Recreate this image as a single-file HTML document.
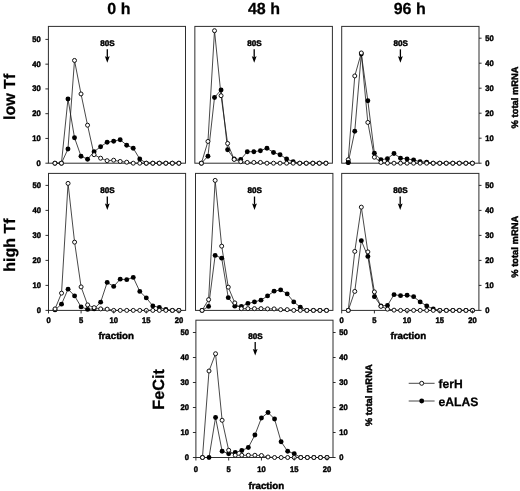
<!DOCTYPE html>
<html lang="en">
<head>
<meta charset="utf-8">
<title>Polysome profiles: ferH and eALAS mRNA distribution</title>
<style>
html,body{margin:0;padding:0;background:#fff;}
body{width:520px;height:491px;overflow:hidden;}
svg{display:block;}
svg text{font-family:"Liberation Sans", Arial, sans-serif;font-weight:bold;fill:#000;stroke:#000;stroke-width:0.25;text-rendering:geometricPrecision;}
svg text.sm{stroke-width:0.45;}
.fr{fill:none;stroke:#2e2e2e;stroke-width:1;}
.tk{stroke:#1a1a1a;stroke-width:0.9;}
.ser polyline,.ser line{fill:none;stroke:#1a1a1a;stroke-width:0.8;stroke-linejoin:round;}
.ser .f{fill:#000;stroke:none;}
.ser .o{fill:#fff;stroke:#111;stroke-width:1.0;}
.ar{stroke:#000;stroke-width:1.3;}
.ah{fill:#000;stroke:none;}
</style>
</head>
<body>
<svg width="520" height="491" viewBox="0 0 520 491">
<rect x="0" y="0" width="520" height="491" fill="#fff"/>
<rect class="fr" x="48.40" y="26.40" width="137.10" height="136.80"/>
<g class="ser">
<polyline points="54.92,163.20 61.45,163.20 67.97,98.95 74.50,137.70 81.03,156.20 87.55,159.20 94.08,151.70 100.60,146.70 107.12,142.20 113.65,141.20 120.18,139.70 126.70,145.20 133.22,148.20 139.75,158.95 146.28,163.20 152.80,163.20 159.33,163.20 165.85,163.20 172.38,163.20 178.90,163.20"/>
<polyline points="54.92,163.20 61.45,163.20 67.97,148.95 74.50,60.45 81.03,93.95 87.55,125.20 94.08,154.70 100.60,158.20 107.12,160.70 113.65,160.20 120.18,161.45 126.70,162.20 133.22,163.20 139.75,163.20 146.28,163.20 152.80,163.20 159.33,163.20 165.85,163.20 172.38,163.20 178.90,163.20"/>
<circle class="f" cx="54.92" cy="163.20" r="2.45"/>
<circle class="f" cx="61.45" cy="163.20" r="2.45"/>
<circle class="f" cx="67.97" cy="98.95" r="2.45"/>
<circle class="f" cx="74.50" cy="137.70" r="2.45"/>
<circle class="f" cx="81.03" cy="156.20" r="2.45"/>
<circle class="f" cx="87.55" cy="159.20" r="2.45"/>
<circle class="f" cx="94.08" cy="151.70" r="2.45"/>
<circle class="f" cx="100.60" cy="146.70" r="2.45"/>
<circle class="f" cx="107.12" cy="142.20" r="2.45"/>
<circle class="f" cx="113.65" cy="141.20" r="2.45"/>
<circle class="f" cx="120.18" cy="139.70" r="2.45"/>
<circle class="f" cx="126.70" cy="145.20" r="2.45"/>
<circle class="f" cx="133.22" cy="148.20" r="2.45"/>
<circle class="f" cx="139.75" cy="158.95" r="2.45"/>
<circle class="f" cx="146.28" cy="163.20" r="2.45"/>
<circle class="f" cx="152.80" cy="163.20" r="2.45"/>
<circle class="f" cx="159.33" cy="163.20" r="2.45"/>
<circle class="f" cx="165.85" cy="163.20" r="2.45"/>
<circle class="f" cx="172.38" cy="163.20" r="2.45"/>
<circle class="f" cx="178.90" cy="163.20" r="2.45"/>
<circle class="o" cx="54.92" cy="163.20" r="2.0"/>
<circle class="o" cx="61.45" cy="163.20" r="2.0"/>
<circle class="f" cx="67.97" cy="148.95" r="2.45"/>
<circle class="o" cx="74.50" cy="60.45" r="2.0"/>
<circle class="o" cx="81.03" cy="93.95" r="2.0"/>
<circle class="o" cx="87.55" cy="125.20" r="2.0"/>
<circle class="o" cx="94.08" cy="154.70" r="2.0"/>
<circle class="o" cx="100.60" cy="158.20" r="2.0"/>
<circle class="o" cx="107.12" cy="160.70" r="2.0"/>
<circle class="o" cx="113.65" cy="160.20" r="2.0"/>
<circle class="o" cx="120.18" cy="161.45" r="2.0"/>
<circle class="o" cx="126.70" cy="162.20" r="2.0"/>
<circle class="o" cx="133.22" cy="163.20" r="2.0"/>
<circle class="o" cx="139.75" cy="163.20" r="2.0"/>
<circle class="o" cx="146.28" cy="163.20" r="2.0"/>
<circle class="o" cx="152.80" cy="163.20" r="2.0"/>
<circle class="o" cx="159.33" cy="163.20" r="2.0"/>
<circle class="o" cx="165.85" cy="163.20" r="2.0"/>
<circle class="o" cx="172.38" cy="163.20" r="2.0"/>
<circle class="o" cx="178.90" cy="163.20" r="2.0"/>
</g>
<line class="tk" x1="45.40" y1="163.20" x2="48.40" y2="163.20"/>
<text class="sm" transform="translate(40.80 165.75) scale(0.94 1)" font-size="8.1" text-anchor="end">0</text>
<line class="tk" x1="45.40" y1="138.44" x2="48.40" y2="138.44"/>
<text class="sm" transform="translate(40.80 140.99) scale(0.94 1)" font-size="8.1" text-anchor="end">10</text>
<line class="tk" x1="45.40" y1="113.68" x2="48.40" y2="113.68"/>
<text class="sm" transform="translate(40.80 116.23) scale(0.94 1)" font-size="8.1" text-anchor="end">20</text>
<line class="tk" x1="45.40" y1="88.92" x2="48.40" y2="88.92"/>
<text class="sm" transform="translate(40.80 91.47) scale(0.94 1)" font-size="8.1" text-anchor="end">30</text>
<line class="tk" x1="45.40" y1="64.16" x2="48.40" y2="64.16"/>
<text class="sm" transform="translate(40.80 66.71) scale(0.94 1)" font-size="8.1" text-anchor="end">40</text>
<line class="tk" x1="45.40" y1="39.40" x2="48.40" y2="39.40"/>
<text class="sm" transform="translate(40.80 41.95) scale(0.94 1)" font-size="8.1" text-anchor="end">50</text>
<text class="sm" x="107.50" y="45.80" font-size="8.1" text-anchor="middle">80S</text>
<line class="ar" x1="107.30" y1="49.35" x2="107.30" y2="57.35"/>
<path class="ah" d="M104.90 56.25 L107.30 57.35 L109.70 56.25 L107.30 62.75 Z"/>
<rect class="fr" x="194.85" y="26.40" width="137.55" height="136.80"/>
<g class="ser">
<polyline points="201.41,163.20 207.96,156.20 214.51,97.45 221.07,89.95 227.62,149.70 234.18,158.95 240.73,159.45 247.29,151.70 253.84,151.70 260.40,150.70 266.95,148.20 273.51,152.45 280.06,154.70 286.62,158.95 293.17,161.70 299.73,163.20 306.28,163.20 312.84,163.20 319.39,163.20 325.95,163.20"/>
<polyline points="201.41,163.20 207.96,141.45 214.51,30.70 221.07,95.70 227.62,143.45 234.18,159.45 240.73,161.70 247.29,162.45 253.84,162.45 260.40,162.45 266.95,163.20 273.51,163.20 280.06,163.20 286.62,163.20 293.17,163.20 299.73,163.20 306.28,163.20 312.84,163.20 319.39,163.20 325.95,163.20"/>
<circle class="f" cx="201.41" cy="163.20" r="2.45"/>
<circle class="f" cx="207.96" cy="156.20" r="2.45"/>
<circle class="f" cx="214.51" cy="97.45" r="2.45"/>
<circle class="f" cx="221.07" cy="89.95" r="2.45"/>
<circle class="f" cx="227.62" cy="149.70" r="2.45"/>
<circle class="f" cx="234.18" cy="158.95" r="2.45"/>
<circle class="f" cx="240.73" cy="159.45" r="2.45"/>
<circle class="f" cx="247.29" cy="151.70" r="2.45"/>
<circle class="f" cx="253.84" cy="151.70" r="2.45"/>
<circle class="f" cx="260.40" cy="150.70" r="2.45"/>
<circle class="f" cx="266.95" cy="148.20" r="2.45"/>
<circle class="f" cx="273.51" cy="152.45" r="2.45"/>
<circle class="f" cx="280.06" cy="154.70" r="2.45"/>
<circle class="f" cx="286.62" cy="158.95" r="2.45"/>
<circle class="f" cx="293.17" cy="161.70" r="2.45"/>
<circle class="f" cx="299.73" cy="163.20" r="2.45"/>
<circle class="f" cx="306.28" cy="163.20" r="2.45"/>
<circle class="f" cx="312.84" cy="163.20" r="2.45"/>
<circle class="f" cx="319.39" cy="163.20" r="2.45"/>
<circle class="f" cx="325.95" cy="163.20" r="2.45"/>
<circle class="o" cx="201.41" cy="163.20" r="2.0"/>
<circle class="o" cx="207.96" cy="141.45" r="2.0"/>
<circle class="o" cx="214.51" cy="30.70" r="2.0"/>
<circle class="o" cx="221.07" cy="95.70" r="2.0"/>
<circle class="o" cx="227.62" cy="143.45" r="2.0"/>
<circle class="o" cx="234.18" cy="159.45" r="2.0"/>
<circle class="o" cx="240.73" cy="161.70" r="2.0"/>
<circle class="o" cx="247.29" cy="162.45" r="2.0"/>
<circle class="o" cx="253.84" cy="162.45" r="2.0"/>
<circle class="o" cx="260.40" cy="162.45" r="2.0"/>
<circle class="o" cx="266.95" cy="163.20" r="2.0"/>
<circle class="o" cx="273.51" cy="163.20" r="2.0"/>
<circle class="o" cx="280.06" cy="163.20" r="2.0"/>
<circle class="o" cx="286.62" cy="163.20" r="2.0"/>
<circle class="o" cx="293.17" cy="163.20" r="2.0"/>
<circle class="o" cx="299.73" cy="163.20" r="2.0"/>
<circle class="o" cx="306.28" cy="163.20" r="2.0"/>
<circle class="o" cx="312.84" cy="163.20" r="2.0"/>
<circle class="o" cx="319.39" cy="163.20" r="2.0"/>
<circle class="o" cx="325.95" cy="163.20" r="2.0"/>
</g>
<text class="sm" x="254.40" y="45.80" font-size="8.1" text-anchor="middle">80S</text>
<line class="ar" x1="254.20" y1="49.35" x2="254.20" y2="57.35"/>
<path class="ah" d="M251.80 56.25 L254.20 57.35 L256.60 56.25 L254.20 62.75 Z"/>
<rect class="fr" x="341.70" y="26.40" width="137.30" height="136.80"/>
<g class="ser">
<polyline points="348.24,162.45 354.77,131.20 361.31,53.95 367.84,100.70 374.38,153.20 380.91,159.70 387.44,158.70 393.98,153.45 400.51,158.20 407.05,158.95 413.58,159.95 420.12,161.70 426.65,162.20 433.19,163.20 439.73,163.20 446.26,163.20 452.79,163.20 459.33,163.20 465.87,163.20 472.40,163.20"/>
<polyline points="348.24,159.70 354.77,75.95 361.31,52.95 367.84,122.45 374.38,157.20 380.91,162.45 387.44,163.20 393.98,163.20 400.51,163.20 407.05,163.20 413.58,163.20 420.12,163.20 426.65,163.20 433.19,163.20 439.73,163.20 446.26,163.20 452.79,163.20 459.33,163.20 465.87,163.20 472.40,163.20"/>
<circle class="f" cx="348.24" cy="162.45" r="2.45"/>
<circle class="f" cx="354.77" cy="131.20" r="2.45"/>
<circle class="f" cx="361.31" cy="53.95" r="2.45"/>
<circle class="f" cx="367.84" cy="100.70" r="2.45"/>
<circle class="f" cx="374.38" cy="153.20" r="2.45"/>
<circle class="f" cx="380.91" cy="159.70" r="2.45"/>
<circle class="f" cx="387.44" cy="158.70" r="2.45"/>
<circle class="f" cx="393.98" cy="153.45" r="2.45"/>
<circle class="f" cx="400.51" cy="158.20" r="2.45"/>
<circle class="f" cx="407.05" cy="158.95" r="2.45"/>
<circle class="f" cx="413.58" cy="159.95" r="2.45"/>
<circle class="f" cx="420.12" cy="161.70" r="2.45"/>
<circle class="f" cx="426.65" cy="162.20" r="2.45"/>
<circle class="f" cx="433.19" cy="163.20" r="2.45"/>
<circle class="f" cx="439.73" cy="163.20" r="2.45"/>
<circle class="f" cx="446.26" cy="163.20" r="2.45"/>
<circle class="f" cx="452.79" cy="163.20" r="2.45"/>
<circle class="f" cx="459.33" cy="163.20" r="2.45"/>
<circle class="f" cx="465.87" cy="163.20" r="2.45"/>
<circle class="f" cx="472.40" cy="163.20" r="2.45"/>
<circle class="o" cx="348.24" cy="159.70" r="2.0"/>
<circle class="o" cx="354.77" cy="75.95" r="2.0"/>
<circle class="o" cx="361.31" cy="52.95" r="2.0"/>
<circle class="o" cx="367.84" cy="122.45" r="2.0"/>
<circle class="o" cx="374.38" cy="157.20" r="2.0"/>
<circle class="o" cx="380.91" cy="162.45" r="2.0"/>
<circle class="o" cx="387.44" cy="163.20" r="2.0"/>
<circle class="o" cx="393.98" cy="163.20" r="2.0"/>
<circle class="o" cx="400.51" cy="163.20" r="2.0"/>
<circle class="o" cx="407.05" cy="163.20" r="2.0"/>
<circle class="o" cx="413.58" cy="163.20" r="2.0"/>
<circle class="o" cx="420.12" cy="163.20" r="2.0"/>
<circle class="o" cx="426.65" cy="163.20" r="2.0"/>
<circle class="o" cx="433.19" cy="163.20" r="2.0"/>
<circle class="o" cx="439.73" cy="163.20" r="2.0"/>
<circle class="o" cx="446.26" cy="163.20" r="2.0"/>
<circle class="o" cx="452.79" cy="163.20" r="2.0"/>
<circle class="o" cx="459.33" cy="163.20" r="2.0"/>
<circle class="o" cx="465.87" cy="163.20" r="2.0"/>
<circle class="o" cx="472.40" cy="163.20" r="2.0"/>
<circle class="f" cx="348.24" cy="162.45" r="2.45"/>
</g>
<line class="tk" x1="479.00" y1="163.20" x2="481.60" y2="163.20"/>
<text class="sm" transform="translate(485.30 165.75) scale(0.94 1)" font-size="8.1" text-anchor="start">0</text>
<line class="tk" x1="479.00" y1="138.20" x2="481.60" y2="138.20"/>
<text class="sm" transform="translate(485.30 140.75) scale(0.94 1)" font-size="8.1" text-anchor="start">10</text>
<line class="tk" x1="479.00" y1="113.20" x2="481.60" y2="113.20"/>
<text class="sm" transform="translate(485.30 115.75) scale(0.94 1)" font-size="8.1" text-anchor="start">20</text>
<line class="tk" x1="479.00" y1="88.20" x2="481.60" y2="88.20"/>
<text class="sm" transform="translate(485.30 90.75) scale(0.94 1)" font-size="8.1" text-anchor="start">30</text>
<line class="tk" x1="479.00" y1="63.20" x2="481.60" y2="63.20"/>
<text class="sm" transform="translate(485.30 65.75) scale(0.94 1)" font-size="8.1" text-anchor="start">40</text>
<line class="tk" x1="479.00" y1="38.20" x2="481.60" y2="38.20"/>
<text class="sm" transform="translate(485.30 40.75) scale(0.94 1)" font-size="8.1" text-anchor="start">50</text>
<text class="sm" x="400.60" y="45.80" font-size="8.1" text-anchor="middle">80S</text>
<line class="ar" x1="400.40" y1="49.35" x2="400.40" y2="57.35"/>
<path class="ah" d="M398.00 56.25 L400.40 57.35 L402.80 56.25 L400.40 62.75 Z"/>
<rect class="fr" x="48.50" y="173.40" width="137.10" height="137.00"/>
<g class="ser">
<polyline points="55.02,309.90 61.54,304.15 68.06,289.15 74.58,295.90 81.10,306.90 87.62,309.40 94.14,308.90 100.66,302.15 107.18,282.40 113.70,286.40 120.22,279.15 126.74,279.65 133.26,277.40 139.78,291.40 146.30,297.90 152.82,305.90 159.34,307.40 165.86,309.40 172.38,310.40 178.90,310.40"/>
<polyline points="55.02,308.90 61.54,293.15 68.06,183.40 74.58,242.15 81.10,286.90 87.62,304.90 94.14,307.65 100.66,308.90 107.18,309.15 113.70,310.40 120.22,310.40 126.74,310.40 133.26,310.40 139.78,310.40 146.30,310.40 152.82,310.40 159.34,310.40 165.86,310.40 172.38,310.40 178.90,310.40"/>
<circle class="f" cx="55.02" cy="309.90" r="2.45"/>
<circle class="f" cx="61.54" cy="304.15" r="2.45"/>
<circle class="f" cx="68.06" cy="289.15" r="2.45"/>
<circle class="f" cx="74.58" cy="295.90" r="2.45"/>
<circle class="f" cx="81.10" cy="306.90" r="2.45"/>
<circle class="f" cx="87.62" cy="309.40" r="2.45"/>
<circle class="f" cx="94.14" cy="308.90" r="2.45"/>
<circle class="f" cx="100.66" cy="302.15" r="2.45"/>
<circle class="f" cx="107.18" cy="282.40" r="2.45"/>
<circle class="f" cx="113.70" cy="286.40" r="2.45"/>
<circle class="f" cx="120.22" cy="279.15" r="2.45"/>
<circle class="f" cx="126.74" cy="279.65" r="2.45"/>
<circle class="f" cx="133.26" cy="277.40" r="2.45"/>
<circle class="f" cx="139.78" cy="291.40" r="2.45"/>
<circle class="f" cx="146.30" cy="297.90" r="2.45"/>
<circle class="f" cx="152.82" cy="305.90" r="2.45"/>
<circle class="f" cx="159.34" cy="307.40" r="2.45"/>
<circle class="f" cx="165.86" cy="309.40" r="2.45"/>
<circle class="f" cx="172.38" cy="310.40" r="2.45"/>
<circle class="f" cx="178.90" cy="310.40" r="2.45"/>
<circle class="o" cx="55.02" cy="308.90" r="2.0"/>
<circle class="o" cx="61.54" cy="293.15" r="2.0"/>
<circle class="o" cx="68.06" cy="183.40" r="2.0"/>
<circle class="o" cx="74.58" cy="242.15" r="2.0"/>
<circle class="o" cx="81.10" cy="286.90" r="2.0"/>
<circle class="o" cx="87.62" cy="304.90" r="2.0"/>
<circle class="o" cx="94.14" cy="307.65" r="2.0"/>
<circle class="o" cx="100.66" cy="308.90" r="2.0"/>
<circle class="o" cx="107.18" cy="309.15" r="2.0"/>
<circle class="o" cx="113.70" cy="310.40" r="2.0"/>
<circle class="o" cx="120.22" cy="310.40" r="2.0"/>
<circle class="o" cx="126.74" cy="310.40" r="2.0"/>
<circle class="o" cx="133.26" cy="310.40" r="2.0"/>
<circle class="o" cx="139.78" cy="310.40" r="2.0"/>
<circle class="o" cx="146.30" cy="310.40" r="2.0"/>
<circle class="o" cx="152.82" cy="310.40" r="2.0"/>
<circle class="o" cx="159.34" cy="310.40" r="2.0"/>
<circle class="o" cx="165.86" cy="310.40" r="2.0"/>
<circle class="o" cx="172.38" cy="310.40" r="2.0"/>
<circle class="o" cx="178.90" cy="310.40" r="2.0"/>
</g>
<line class="tk" x1="45.50" y1="310.40" x2="48.50" y2="310.40"/>
<text class="sm" transform="translate(40.90 312.95) scale(0.94 1)" font-size="8.1" text-anchor="end">0</text>
<line class="tk" x1="45.50" y1="285.40" x2="48.50" y2="285.40"/>
<text class="sm" transform="translate(40.90 287.95) scale(0.94 1)" font-size="8.1" text-anchor="end">10</text>
<line class="tk" x1="45.50" y1="260.40" x2="48.50" y2="260.40"/>
<text class="sm" transform="translate(40.90 262.95) scale(0.94 1)" font-size="8.1" text-anchor="end">20</text>
<line class="tk" x1="45.50" y1="235.40" x2="48.50" y2="235.40"/>
<text class="sm" transform="translate(40.90 237.95) scale(0.94 1)" font-size="8.1" text-anchor="end">30</text>
<line class="tk" x1="45.50" y1="210.40" x2="48.50" y2="210.40"/>
<text class="sm" transform="translate(40.90 212.95) scale(0.94 1)" font-size="8.1" text-anchor="end">40</text>
<line class="tk" x1="45.50" y1="185.40" x2="48.50" y2="185.40"/>
<text class="sm" transform="translate(40.90 187.95) scale(0.94 1)" font-size="8.1" text-anchor="end">50</text>
<line class="tk" x1="48.50" y1="310.40" x2="48.50" y2="313.40"/>
<text class="sm" transform="translate(48.50 322.70) scale(0.94 1)" font-size="8.1" text-anchor="middle">0</text>
<line class="tk" x1="81.10" y1="310.40" x2="81.10" y2="313.40"/>
<text class="sm" transform="translate(81.10 322.70) scale(0.94 1)" font-size="8.1" text-anchor="middle">5</text>
<line class="tk" x1="113.70" y1="310.40" x2="113.70" y2="313.40"/>
<text class="sm" transform="translate(113.70 322.70) scale(0.94 1)" font-size="8.1" text-anchor="middle">10</text>
<line class="tk" x1="146.30" y1="310.40" x2="146.30" y2="313.40"/>
<text class="sm" transform="translate(146.30 322.70) scale(0.94 1)" font-size="8.1" text-anchor="middle">15</text>
<line class="tk" x1="178.90" y1="310.40" x2="178.90" y2="313.40"/>
<text class="sm" transform="translate(178.90 322.70) scale(0.94 1)" font-size="8.1" text-anchor="middle">20</text>
<text class="sm" x="116.15" y="339.30" font-size="9.7" text-anchor="middle">fraction</text>
<text class="sm" x="107.50" y="193.30" font-size="8.1" text-anchor="middle">80S</text>
<line class="ar" x1="107.30" y1="196.55" x2="107.30" y2="204.55"/>
<path class="ah" d="M104.90 203.45 L107.30 204.55 L109.70 203.45 L107.30 209.95 Z"/>
<rect class="fr" x="195.50" y="173.40" width="137.40" height="137.00"/>
<g class="ser">
<polyline points="202.05,310.40 208.60,306.40 215.15,255.40 221.70,258.15 228.25,297.65 234.80,306.15 241.35,306.40 247.90,303.40 254.45,301.90 261.00,300.15 267.55,295.90 274.10,291.15 280.65,289.90 287.20,293.90 293.75,301.90 300.30,307.15 306.85,310.40 313.40,310.40 319.95,310.40 326.50,310.40"/>
<polyline points="202.05,310.40 208.60,299.65 215.15,180.40 221.70,246.15 228.25,287.15 234.80,302.90 241.35,308.65 247.90,308.65 254.45,308.65 261.00,308.65 267.55,308.90 274.10,308.90 280.65,309.65 287.20,309.65 293.75,310.40 300.30,310.40 306.85,310.40 313.40,310.40 319.95,310.40 326.50,310.40"/>
<circle class="f" cx="202.05" cy="310.40" r="2.45"/>
<circle class="f" cx="208.60" cy="306.40" r="2.45"/>
<circle class="f" cx="215.15" cy="255.40" r="2.45"/>
<circle class="f" cx="221.70" cy="258.15" r="2.45"/>
<circle class="f" cx="228.25" cy="297.65" r="2.45"/>
<circle class="f" cx="234.80" cy="306.15" r="2.45"/>
<circle class="f" cx="241.35" cy="306.40" r="2.45"/>
<circle class="f" cx="247.90" cy="303.40" r="2.45"/>
<circle class="f" cx="254.45" cy="301.90" r="2.45"/>
<circle class="f" cx="261.00" cy="300.15" r="2.45"/>
<circle class="f" cx="267.55" cy="295.90" r="2.45"/>
<circle class="f" cx="274.10" cy="291.15" r="2.45"/>
<circle class="f" cx="280.65" cy="289.90" r="2.45"/>
<circle class="f" cx="287.20" cy="293.90" r="2.45"/>
<circle class="f" cx="293.75" cy="301.90" r="2.45"/>
<circle class="f" cx="300.30" cy="307.15" r="2.45"/>
<circle class="f" cx="306.85" cy="310.40" r="2.45"/>
<circle class="f" cx="313.40" cy="310.40" r="2.45"/>
<circle class="f" cx="319.95" cy="310.40" r="2.45"/>
<circle class="f" cx="326.50" cy="310.40" r="2.45"/>
<circle class="o" cx="202.05" cy="310.40" r="2.0"/>
<circle class="o" cx="208.60" cy="299.65" r="2.0"/>
<circle class="o" cx="215.15" cy="180.40" r="2.0"/>
<circle class="o" cx="221.70" cy="246.15" r="2.0"/>
<circle class="o" cx="228.25" cy="287.15" r="2.0"/>
<circle class="o" cx="234.80" cy="302.90" r="2.0"/>
<circle class="o" cx="241.35" cy="308.65" r="2.0"/>
<circle class="o" cx="247.90" cy="308.65" r="2.0"/>
<circle class="o" cx="254.45" cy="308.65" r="2.0"/>
<circle class="o" cx="261.00" cy="308.65" r="2.0"/>
<circle class="o" cx="267.55" cy="308.90" r="2.0"/>
<circle class="o" cx="274.10" cy="308.90" r="2.0"/>
<circle class="o" cx="280.65" cy="309.65" r="2.0"/>
<circle class="o" cx="287.20" cy="309.65" r="2.0"/>
<circle class="o" cx="293.75" cy="310.40" r="2.0"/>
<circle class="o" cx="300.30" cy="310.40" r="2.0"/>
<circle class="o" cx="306.85" cy="310.40" r="2.0"/>
<circle class="o" cx="313.40" cy="310.40" r="2.0"/>
<circle class="o" cx="319.95" cy="310.40" r="2.0"/>
<circle class="o" cx="326.50" cy="310.40" r="2.0"/>
</g>
<text class="sm" x="254.70" y="193.30" font-size="8.1" text-anchor="middle">80S</text>
<line class="ar" x1="254.50" y1="196.55" x2="254.50" y2="204.55"/>
<path class="ah" d="M252.10 203.45 L254.50 204.55 L256.90 203.45 L254.50 209.95 Z"/>
<rect class="fr" x="341.70" y="173.40" width="137.20" height="137.00"/>
<g class="ser">
<polyline points="348.24,310.40 354.78,291.40 361.32,240.65 367.86,256.40 374.40,296.65 380.94,305.90 387.48,305.40 394.02,294.65 400.56,295.65 407.10,295.27 413.64,296.65 420.18,301.90 426.72,305.90 433.26,309.02 439.80,310.40 446.34,310.40 452.88,310.40 459.42,310.40 465.96,310.40 472.50,310.40"/>
<polyline points="348.24,310.40 354.78,251.40 361.32,207.15 367.86,251.90 374.40,291.90 380.94,306.40 387.48,309.15 394.02,310.15 400.56,310.40 407.10,310.40 413.64,310.40 420.18,310.40 426.72,310.40 433.26,310.40 439.80,310.40 446.34,310.40 452.88,310.40 459.42,310.40 465.96,310.40 472.50,310.40"/>
<circle class="f" cx="348.24" cy="310.40" r="2.45"/>
<circle class="o" cx="354.78" cy="291.40" r="2.0"/>
<circle class="f" cx="361.32" cy="240.65" r="2.45"/>
<circle class="f" cx="367.86" cy="256.40" r="2.45"/>
<circle class="f" cx="374.40" cy="296.65" r="2.45"/>
<circle class="f" cx="380.94" cy="305.90" r="2.45"/>
<circle class="f" cx="387.48" cy="305.40" r="2.45"/>
<circle class="f" cx="394.02" cy="294.65" r="2.45"/>
<circle class="f" cx="400.56" cy="295.65" r="2.45"/>
<circle class="f" cx="407.10" cy="295.27" r="2.45"/>
<circle class="f" cx="413.64" cy="296.65" r="2.45"/>
<circle class="f" cx="420.18" cy="301.90" r="2.45"/>
<circle class="f" cx="426.72" cy="305.90" r="2.45"/>
<circle class="f" cx="433.26" cy="309.02" r="2.45"/>
<circle class="f" cx="439.80" cy="310.40" r="2.45"/>
<circle class="f" cx="446.34" cy="310.40" r="2.45"/>
<circle class="f" cx="452.88" cy="310.40" r="2.45"/>
<circle class="f" cx="459.42" cy="310.40" r="2.45"/>
<circle class="f" cx="465.96" cy="310.40" r="2.45"/>
<circle class="f" cx="472.50" cy="310.40" r="2.45"/>
<circle class="o" cx="348.24" cy="310.40" r="2.0"/>
<circle class="o" cx="354.78" cy="251.40" r="2.0"/>
<circle class="o" cx="361.32" cy="207.15" r="2.0"/>
<circle class="o" cx="367.86" cy="251.90" r="2.0"/>
<circle class="o" cx="374.40" cy="291.90" r="2.0"/>
<circle class="o" cx="380.94" cy="306.40" r="2.0"/>
<circle class="o" cx="387.48" cy="309.15" r="2.0"/>
<circle class="o" cx="394.02" cy="310.15" r="2.0"/>
<circle class="o" cx="400.56" cy="310.40" r="2.0"/>
<circle class="o" cx="407.10" cy="310.40" r="2.0"/>
<circle class="o" cx="413.64" cy="310.40" r="2.0"/>
<circle class="o" cx="420.18" cy="310.40" r="2.0"/>
<circle class="o" cx="426.72" cy="310.40" r="2.0"/>
<circle class="o" cx="433.26" cy="310.40" r="2.0"/>
<circle class="o" cx="439.80" cy="310.40" r="2.0"/>
<circle class="o" cx="446.34" cy="310.40" r="2.0"/>
<circle class="o" cx="452.88" cy="310.40" r="2.0"/>
<circle class="o" cx="459.42" cy="310.40" r="2.0"/>
<circle class="o" cx="465.96" cy="310.40" r="2.0"/>
<circle class="o" cx="472.50" cy="310.40" r="2.0"/>
</g>
<line class="tk" x1="478.90" y1="310.40" x2="481.50" y2="310.40"/>
<text class="sm" transform="translate(485.20 312.95) scale(0.94 1)" font-size="8.1" text-anchor="start">0</text>
<line class="tk" x1="478.90" y1="285.40" x2="481.50" y2="285.40"/>
<text class="sm" transform="translate(485.20 287.95) scale(0.94 1)" font-size="8.1" text-anchor="start">10</text>
<line class="tk" x1="478.90" y1="260.40" x2="481.50" y2="260.40"/>
<text class="sm" transform="translate(485.20 262.95) scale(0.94 1)" font-size="8.1" text-anchor="start">20</text>
<line class="tk" x1="478.90" y1="235.40" x2="481.50" y2="235.40"/>
<text class="sm" transform="translate(485.20 237.95) scale(0.94 1)" font-size="8.1" text-anchor="start">30</text>
<line class="tk" x1="478.90" y1="210.40" x2="481.50" y2="210.40"/>
<text class="sm" transform="translate(485.20 212.95) scale(0.94 1)" font-size="8.1" text-anchor="start">40</text>
<line class="tk" x1="478.90" y1="185.40" x2="481.50" y2="185.40"/>
<text class="sm" transform="translate(485.20 187.95) scale(0.94 1)" font-size="8.1" text-anchor="start">50</text>
<line class="tk" x1="341.70" y1="310.40" x2="341.70" y2="313.40"/>
<text class="sm" transform="translate(341.70 322.70) scale(0.94 1)" font-size="8.1" text-anchor="middle">0</text>
<line class="tk" x1="374.40" y1="310.40" x2="374.40" y2="313.40"/>
<text class="sm" transform="translate(374.40 322.70) scale(0.94 1)" font-size="8.1" text-anchor="middle">5</text>
<line class="tk" x1="407.10" y1="310.40" x2="407.10" y2="313.40"/>
<text class="sm" transform="translate(407.10 322.70) scale(0.94 1)" font-size="8.1" text-anchor="middle">10</text>
<line class="tk" x1="439.80" y1="310.40" x2="439.80" y2="313.40"/>
<text class="sm" transform="translate(439.80 322.70) scale(0.94 1)" font-size="8.1" text-anchor="middle">15</text>
<line class="tk" x1="472.50" y1="310.40" x2="472.50" y2="313.40"/>
<text class="sm" transform="translate(472.50 322.70) scale(0.94 1)" font-size="8.1" text-anchor="middle">20</text>
<text class="sm" x="408.30" y="339.30" font-size="9.7" text-anchor="middle">fraction</text>
<text class="sm" x="400.40" y="193.30" font-size="8.1" text-anchor="middle">80S</text>
<line class="ar" x1="400.20" y1="196.55" x2="400.20" y2="204.55"/>
<path class="ah" d="M397.80 203.45 L400.20 204.55 L402.60 203.45 L400.20 209.95 Z"/>
<rect class="fr" x="195.90" y="320.20" width="137.10" height="137.30"/>
<g class="ser">
<polyline points="202.46,457.50 209.01,457.50 215.56,417.50 222.12,451.25 228.68,453.75 235.23,452.50 241.78,450.50 248.34,447.50 254.90,435.00 261.45,418.00 268.00,412.50 274.56,419.00 281.12,441.75 287.67,451.25 294.23,453.75 300.78,457.50 307.34,457.50 313.89,457.50 320.44,457.50 327.00,457.50"/>
<polyline points="202.46,457.50 209.01,371.00 215.56,353.75 222.12,420.25 228.68,450.25 235.23,455.25 241.78,455.25 248.34,455.25 254.90,455.25 261.45,455.50 268.00,457.00 274.56,457.50 281.12,457.50 287.67,457.50 294.23,457.50 300.78,457.50 307.34,457.50 313.89,457.50 320.44,457.50 327.00,457.50"/>
<circle class="f" cx="202.46" cy="457.50" r="2.45"/>
<circle class="f" cx="209.01" cy="457.50" r="2.45"/>
<circle class="f" cx="215.56" cy="417.50" r="2.45"/>
<circle class="f" cx="222.12" cy="451.25" r="2.45"/>
<circle class="f" cx="228.68" cy="453.75" r="2.45"/>
<circle class="f" cx="235.23" cy="452.50" r="2.45"/>
<circle class="f" cx="241.78" cy="450.50" r="2.45"/>
<circle class="f" cx="248.34" cy="447.50" r="2.45"/>
<circle class="f" cx="254.90" cy="435.00" r="2.45"/>
<circle class="f" cx="261.45" cy="418.00" r="2.45"/>
<circle class="f" cx="268.00" cy="412.50" r="2.45"/>
<circle class="f" cx="274.56" cy="419.00" r="2.45"/>
<circle class="f" cx="281.12" cy="441.75" r="2.45"/>
<circle class="f" cx="287.67" cy="451.25" r="2.45"/>
<circle class="f" cx="294.23" cy="453.75" r="2.45"/>
<circle class="f" cx="300.78" cy="457.50" r="2.45"/>
<circle class="f" cx="307.34" cy="457.50" r="2.45"/>
<circle class="f" cx="313.89" cy="457.50" r="2.45"/>
<circle class="f" cx="320.44" cy="457.50" r="2.45"/>
<circle class="f" cx="327.00" cy="457.50" r="2.45"/>
<circle class="o" cx="202.46" cy="457.50" r="2.0"/>
<circle class="o" cx="209.01" cy="371.00" r="2.0"/>
<circle class="o" cx="215.56" cy="353.75" r="2.0"/>
<circle class="o" cx="222.12" cy="420.25" r="2.0"/>
<circle class="o" cx="228.68" cy="450.25" r="2.0"/>
<circle class="o" cx="235.23" cy="455.25" r="2.0"/>
<circle class="o" cx="241.78" cy="455.25" r="2.0"/>
<circle class="o" cx="248.34" cy="455.25" r="2.0"/>
<circle class="o" cx="254.90" cy="455.25" r="2.0"/>
<circle class="o" cx="261.45" cy="455.50" r="2.0"/>
<circle class="o" cx="268.00" cy="457.00" r="2.0"/>
<circle class="o" cx="274.56" cy="457.50" r="2.0"/>
<circle class="o" cx="281.12" cy="457.50" r="2.0"/>
<circle class="o" cx="287.67" cy="457.50" r="2.0"/>
<circle class="o" cx="294.23" cy="457.50" r="2.0"/>
<circle class="o" cx="300.78" cy="457.50" r="2.0"/>
<circle class="o" cx="307.34" cy="457.50" r="2.0"/>
<circle class="o" cx="313.89" cy="457.50" r="2.0"/>
<circle class="o" cx="320.44" cy="457.50" r="2.0"/>
<circle class="o" cx="327.00" cy="457.50" r="2.0"/>
</g>
<line class="tk" x1="192.90" y1="457.50" x2="195.90" y2="457.50"/>
<text class="sm" transform="translate(189.00 460.05) scale(0.94 1)" font-size="8.1" text-anchor="end">0</text>
<line class="tk" x1="333.00" y1="457.50" x2="335.60" y2="457.50"/>
<text class="sm" transform="translate(339.30 460.05) scale(0.94 1)" font-size="8.1" text-anchor="start">0</text>
<line class="tk" x1="192.90" y1="432.50" x2="195.90" y2="432.50"/>
<text class="sm" transform="translate(189.00 435.05) scale(0.94 1)" font-size="8.1" text-anchor="end">10</text>
<line class="tk" x1="333.00" y1="432.50" x2="335.60" y2="432.50"/>
<text class="sm" transform="translate(339.30 435.05) scale(0.94 1)" font-size="8.1" text-anchor="start">10</text>
<line class="tk" x1="192.90" y1="407.50" x2="195.90" y2="407.50"/>
<text class="sm" transform="translate(189.00 410.05) scale(0.94 1)" font-size="8.1" text-anchor="end">20</text>
<line class="tk" x1="333.00" y1="407.50" x2="335.60" y2="407.50"/>
<text class="sm" transform="translate(339.30 410.05) scale(0.94 1)" font-size="8.1" text-anchor="start">20</text>
<line class="tk" x1="192.90" y1="382.50" x2="195.90" y2="382.50"/>
<text class="sm" transform="translate(189.00 385.05) scale(0.94 1)" font-size="8.1" text-anchor="end">30</text>
<line class="tk" x1="333.00" y1="382.50" x2="335.60" y2="382.50"/>
<text class="sm" transform="translate(339.30 385.05) scale(0.94 1)" font-size="8.1" text-anchor="start">30</text>
<line class="tk" x1="192.90" y1="357.50" x2="195.90" y2="357.50"/>
<text class="sm" transform="translate(189.00 360.05) scale(0.94 1)" font-size="8.1" text-anchor="end">40</text>
<line class="tk" x1="333.00" y1="357.50" x2="335.60" y2="357.50"/>
<text class="sm" transform="translate(339.30 360.05) scale(0.94 1)" font-size="8.1" text-anchor="start">40</text>
<line class="tk" x1="192.90" y1="332.50" x2="195.90" y2="332.50"/>
<text class="sm" transform="translate(189.00 335.05) scale(0.94 1)" font-size="8.1" text-anchor="end">50</text>
<line class="tk" x1="333.00" y1="332.50" x2="335.60" y2="332.50"/>
<text class="sm" transform="translate(339.30 335.05) scale(0.94 1)" font-size="8.1" text-anchor="start">50</text>
<line class="tk" x1="195.90" y1="457.50" x2="195.90" y2="460.50"/>
<text class="sm" transform="translate(195.90 471.50) scale(0.94 1)" font-size="8.1" text-anchor="middle">0</text>
<line class="tk" x1="228.68" y1="457.50" x2="228.68" y2="460.50"/>
<text class="sm" transform="translate(228.68 471.50) scale(0.94 1)" font-size="8.1" text-anchor="middle">5</text>
<line class="tk" x1="261.45" y1="457.50" x2="261.45" y2="460.50"/>
<text class="sm" transform="translate(261.45 471.50) scale(0.94 1)" font-size="8.1" text-anchor="middle">10</text>
<line class="tk" x1="294.23" y1="457.50" x2="294.23" y2="460.50"/>
<text class="sm" transform="translate(294.23 471.50) scale(0.94 1)" font-size="8.1" text-anchor="middle">15</text>
<line class="tk" x1="327.00" y1="457.50" x2="327.00" y2="460.50"/>
<text class="sm" transform="translate(327.00 471.50) scale(0.94 1)" font-size="8.1" text-anchor="middle">20</text>
<text class="sm" x="266.35" y="489.20" font-size="9.7" text-anchor="middle">fraction</text>
<text class="sm" x="255.40" y="338.80" font-size="8.1" text-anchor="middle">80S</text>
<line class="ar" x1="255.20" y1="342.10" x2="255.20" y2="350.10"/>
<path class="ah" d="M252.80 349.00 L255.20 350.10 L257.60 349.00 L255.20 355.50 Z"/>
<text x="118.90" y="14.40" font-size="16" text-anchor="middle">0 h</text>
<text x="263.90" y="14.40" font-size="16" text-anchor="middle">48 h</text>
<text x="409.70" y="14.40" font-size="16" text-anchor="middle">96 h</text>
<text x="14.70" y="96.90" font-size="16" text-anchor="middle" transform="rotate(-90 14.70 96.90)">low Tf</text>
<text x="14.70" y="245.00" font-size="16" text-anchor="middle" transform="rotate(-90 14.70 245.00)">high Tf</text>
<text x="163.90" y="389.40" font-size="16.3" text-anchor="middle" transform="rotate(-90 163.90 389.40)">FeCit</text>
<text class="sm" x="518.00" y="97.40" font-size="9.4" text-anchor="middle" transform="rotate(-90 518.00 97.40)">% total mRNA</text>
<text class="sm" x="518.40" y="246.80" font-size="9.4" text-anchor="middle" transform="rotate(-90 518.40 246.80)">% total mRNA</text>
<text class="sm" x="371.60" y="395.30" font-size="9.4" text-anchor="middle" transform="rotate(-90 371.60 395.30)">% total mRNA</text>
<g class="ser">
<line x1="408.7" y1="383.3" x2="434.6" y2="383.3"/>
<circle class="o" cx="421.7" cy="383.3" r="2.0"/>
<line x1="408.7" y1="401.0" x2="434.6" y2="401.0"/>
<circle class="f" cx="421.7" cy="401.0" r="2.45"/>
</g>
<text x="438.50" y="388.40" font-size="12.1" text-anchor="start">ferH</text>
<text x="438.50" y="405.50" font-size="12.2" text-anchor="start">eALAS</text>
</svg>
</body>
</html>
